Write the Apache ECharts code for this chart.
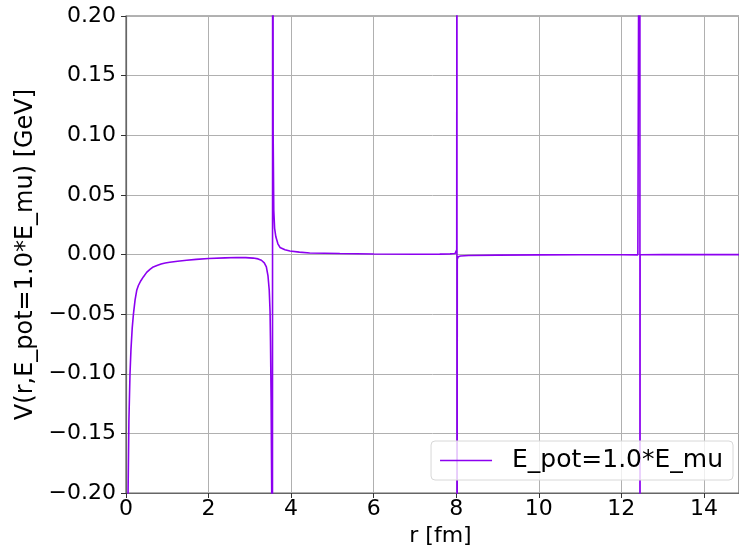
<!DOCTYPE html>
<html>
<head>
<meta charset="utf-8">
<script src="https://cdn.jsdelivr.net/npm/echarts@6/dist/echarts.min.js"></script>
<style>
  html, body { margin: 0; padding: 0; background: #fff; }
  #chart { width: 739px; height: 555px; }
</style>
</head>
<body>
<div id="chart"></div>
<script>
// r [fm] and V [GeV]; poles at ~3.55, ~8.02, ~12.45
const rVals = [
  0.04, 0.05, 0.07, 0.097, 0.12, 0.15, 0.18, 0.22, 0.26, 0.3, 0.36, 0.42, 0.5, 0.58, 0.66, 0.75, 0.85, 0.95, 1.06, 1.25, 1.47, 1.7, 2.0, 2.4, 2.68, 2.9, 3.08, 3.2, 3.28, 3.35, 3.40, 3.44, 3.47, 3.49, 3.50, 3.515, 3.53, 3.545,
  3.555, 3.565, 3.58, 3.6, 3.63, 3.68, 3.73, 3.85, 3.97, 4.2, 4.45, 5.18, 6.0, 7.0, 7.6, 7.85, 7.97, 7.995, 8.012, 8.017,
  8.019, 8.025, 8.05, 8.1, 8.3, 9.0, 10.0, 11.0, 12.0, 12.4, 12.445, 12.45,
  12.45, 12.455, 13.0, 14.0, 15.0
];
const vVals = [
  -0.6, -0.2, -0.14, -0.1, -0.08, -0.062, -0.05, -0.038, -0.03, -0.026, -0.022, -0.0188, -0.015, -0.0125, -0.0104, -0.0092, -0.008, -0.0072, -0.0065, -0.0056, -0.0048, -0.0041, -0.0034, -0.0028, -0.0025, -0.0026, -0.003, -0.0037, -0.0048, -0.007, -0.0104, -0.018, -0.03, -0.048, -0.072, -0.12, -0.2, -0.6,
  0.6, 0.1, 0.037, 0.022, 0.0148, 0.009, 0.0059, 0.004, 0.003, 0.002, 0.0013, 0.0008, 0.0004, 0.0002, 0.0003, 0.0005, 0.0008, 0.0015, 0.004, 0.6,
  -0.6, -0.004, -0.0018, -0.0012, -0.0008, -0.0005, -0.0003, -0.0002, -0.0002, -0.0003, -0.0003, 0.6,
  -0.6, -0.0002, -0.0001, -0.0001, -0.0001
];
const xTicks = [0, 2, 4, 6, 8, 10, 12, 14];
const yTicks = [-0.2, -0.15, -0.1, -0.05, 0, 0.05, 0.1, 0.15, 0.2];

const lineColor = '#8c00f0';
const font = 'DejaVu Sans';

const chart = echarts.init(document.getElementById('chart'));

chart.setOption({
  animation: false,
  backgroundColor: '#fff',
  grid: { left: 126, right: -2, top: 16, bottom: 62, show: true, borderColor: '#666', borderWidth: 1.2 },
  legend: {
    data: ['E_pot=1.0*E_mu'],
    right: 6, bottom: 75,
    icon: 'rect',
    itemWidth: 52, itemHeight: 1.5, itemGap: 10,
    padding: [7, 10, 7, 9],
    backgroundColor: 'rgba(255,255,255,0.8)',
    borderColor: '#d8d8d8', borderWidth: 1, borderRadius: 4,
    textStyle: { fontFamily: font, fontSize: 25, color: '#000', padding: [0, 0, 0, 15] }
  },
  xAxis: {
    type: 'value',
    min: 0, max: 14.85, interval: 2,
    name: 'r [fm]', nameLocation: 'middle', nameGap: 32,
    nameTextStyle: { fontFamily: font, fontSize: 22, color: '#000', padding: [0, 0, 0, 16] },
    axisLine: { show: true, onZero: false, lineStyle: { color: '#666', width: 1.2 } },
    axisTick: { show: true, length: 5, lineStyle: { color: '#333' } },
    axisLabel: { fontFamily: font, fontSize: 22, color: '#000', margin: 5, showMaxLabel: false,
      formatter: v => (xTicks.indexOf(v) >= 0 ? String(v) : '') },
    splitLine: { show: true, lineStyle: { color: '#b0b0b0', width: 1 } }
  },
  yAxis: {
    type: 'value',
    min: -0.2, max: 0.2, interval: 0.05,
    name: 'V(r,E_pot=1.0*E_mu) [GeV]', nameLocation: 'middle', nameGap: 84, nameRotate: 90,
    nameTextStyle: { fontFamily: font, fontSize: 24, color: '#000' },
    axisLine: { show: true, onZero: false, lineStyle: { color: '#666', width: 1.2 } },
    axisTick: { show: true, length: 5, lineStyle: { color: '#333' } },
    axisLabel: { fontFamily: font, fontSize: 22, color: '#000', margin: 10,
      formatter: v => {
        const t = yTicks.find(y => Math.abs(y - v) < 1e-9);
        if (t === undefined) return '';
        const s = Math.abs(t).toFixed(2);
        return (t < -1e-9 ? '\u2212' : '') + s;
      } },
    splitLine: { show: true, lineStyle: { color: '#b0b0b0', width: 1 } }
  },
  series: [{
    name: 'E_pot=1.0*E_mu',
    type: 'line',
    data: rVals.map((r, i) => [r, vVals[i]]),
    symbol: 'none',
    clip: true,
    lineStyle: { color: lineColor, width: 1.6 },
    itemStyle: { color: lineColor }
  }]
});
</script>
</body>
</html>
